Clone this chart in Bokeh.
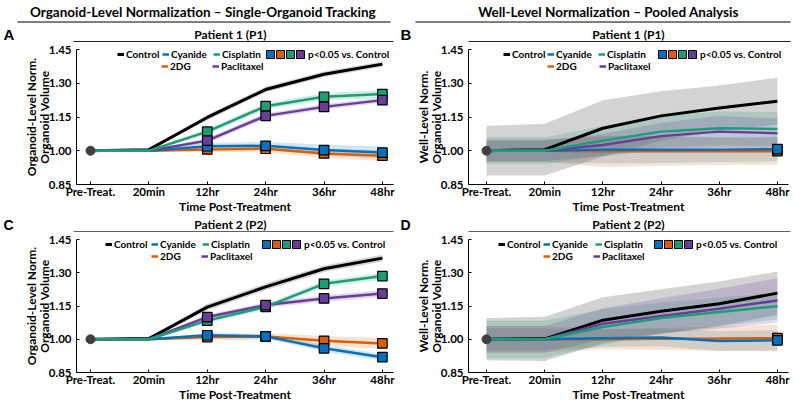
from bokeh.plotting import figure
from bokeh.layouts import column, row
from bokeh.models import Range1d, FixedTicker, Legend, LegendItem, NumeralTickFormatter
from bokeh.embed import file_html
from bokeh.resources import INLINE
from bokeh.core.properties import value

# ---------------- data ----------------
time_labels = ["Pre-Treat.", "20min", "12hr", "24hr", "36hr", "48hr"]
y_ticks = [0.85, 1.00, 1.15, 1.30, 1.45]
header_left = "Organoid-Level Normalization \u2013 Single-Organoid Tracking"
header_right = "Well-Level Normalization \u2013 Pooled Analysis"
patient_titles = ["Patient 1 (P1)", "Patient 2 (P2)"]
panel_letters = ["A", "B", "C", "D"]
ylabel_org = "Organoid-Level Norm.\nOrganoid Volume"
ylabel_well = "Well-Level Norm.\nOrganoid Volume"
xlabel = "Time Post-Treatment"
sig_label = "p<0.05 vs. Control"

# Panel A: organoid-level, patient 1
A_ctrl = [1.000, 1.005, 1.148, 1.272, 1.340, 1.385]
A_ctrl_sd = [0.000, 0.003, 0.012, 0.012, 0.012, 0.012]
A_cyn = [1.000, 1.000, 1.020, 1.022, 1.003, 0.992]
A_cyn_sd = [0.000, 0.003, 0.015, 0.018, 0.024, 0.028]
A_2dg = [1.000, 1.000, 1.006, 1.009, 0.988, 0.978]
A_2dg_sd = [0.000, 0.003, 0.012, 0.015, 0.020, 0.024]
A_cis = [1.000, 1.000, 1.085, 1.198, 1.240, 1.252]
A_cis_sd = [0.000, 0.003, 0.012, 0.013, 0.016, 0.018]
A_pac = [1.000, 1.000, 1.045, 1.155, 1.195, 1.225]
A_pac_sd = [0.000, 0.003, 0.012, 0.012, 0.012, 0.012]
A_cyn_sig = [0, 0, 1, 1, 1, 1]
A_2dg_sig = [0, 0, 1, 1, 1, 1]
A_cis_sig = [0, 0, 1, 1, 1, 1]
A_pac_sig = [0, 0, 1, 1, 1, 1]

# Panel B: well-level, patient 1
B_ctrl = [1.000, 1.005, 1.100, 1.155, 1.190, 1.220]
B_ctrl_sd = [0.110, 0.115, 0.125, 0.110, 0.100, 0.105]
B_cyn = [1.000, 1.000, 1.005, 1.005, 1.005, 1.007]
B_cyn_sd = [0.050, 0.050, 0.060, 0.060, 0.055, 0.055]
B_2dg = [1.000, 1.000, 0.998, 0.998, 0.998, 0.998]
B_2dg_sd = [0.050, 0.050, 0.070, 0.065, 0.060, 0.060]
B_cis = [1.000, 1.000, 1.045, 1.085, 1.100, 1.097]
B_cis_sd = [0.060, 0.060, 0.065, 0.070, 0.075, 0.075]
B_pac = [1.000, 1.000, 1.026, 1.065, 1.085, 1.078]
B_pac_sd = [0.045, 0.045, 0.050, 0.060, 0.070, 0.065]
B_cyn_sig = [0, 0, 0, 0, 0, 1]
B_2dg_sig = [0, 0, 0, 0, 0, 1]
B_cis_sig = [0, 0, 0, 0, 0, 0]
B_pac_sig = [0, 0, 0, 0, 0, 0]

# Panel C: organoid-level, patient 2
C_ctrl = [1.000, 1.003, 1.145, 1.236, 1.318, 1.366]
C_ctrl_sd = [0.000, 0.003, 0.015, 0.015, 0.015, 0.015]
C_cyn = [1.000, 1.000, 1.018, 1.013, 0.959, 0.919]
C_cyn_sd = [0.000, 0.003, 0.010, 0.010, 0.015, 0.015]
C_2dg = [1.000, 1.000, 1.010, 1.012, 0.993, 0.981]
C_2dg_sd = [0.000, 0.003, 0.012, 0.015, 0.022, 0.025]
C_cis = [1.000, 1.000, 1.084, 1.146, 1.250, 1.285]
C_cis_sd = [0.000, 0.003, 0.012, 0.012, 0.015, 0.015]
C_pac = [1.000, 1.000, 1.100, 1.154, 1.184, 1.206]
C_pac_sd = [0.000, 0.003, 0.012, 0.012, 0.015, 0.015]
C_cyn_sig = [0, 0, 1, 1, 1, 1]
C_2dg_sig = [0, 0, 1, 1, 1, 1]
C_cis_sig = [0, 0, 1, 1, 1, 1]
C_pac_sig = [0, 0, 1, 1, 1, 1]

# Panel D: well-level, patient 2
D_ctrl = [1.000, 1.002, 1.086, 1.126, 1.160, 1.208]
D_ctrl_sd = [0.095, 0.100, 0.104, 0.100, 0.100, 0.098]
D_cyn = [1.000, 1.000, 1.005, 1.008, 0.992, 0.995]
D_cyn_sd = [0.050, 0.050, 0.040, 0.040, 0.045, 0.045]
D_2dg = [1.000, 1.000, 1.000, 1.002, 1.003, 1.005]
D_2dg_sd = [0.060, 0.060, 0.045, 0.050, 0.055, 0.060]
D_cis = [1.000, 1.000, 1.055, 1.096, 1.123, 1.149]
D_cis_sd = [0.085, 0.085, 0.080, 0.070, 0.065, 0.060]
D_pac = [1.000, 1.000, 1.070, 1.105, 1.138, 1.175]
D_pac_sd = [0.060, 0.060, 0.070, 0.080, 0.090, 0.100]
D_cyn_sig = [0, 0, 0, 0, 0, 1]
D_2dg_sig = [0, 0, 0, 0, 0, 1]
D_cis_sig = [0, 0, 0, 0, 0, 0]
D_pac_sig = [0, 0, 0, 0, 0, 0]

# ---------------- styles ----------------
FONT = "Lato"
NAN = float("nan")
COL = {"Control": "#000000", "Cyanide": "#0072BD", "2DG": "#D95F02",
       "Cisplatin": "#1B9E77", "Paclitaxel": "#6A3D9A"}
BAND = {"Control": ("#808080", 0.35), "Cyanide": ("#0072BD", 0.18), "2DG": ("#D95F02", 0.18),
        "Cisplatin": ("#1B9E77", 0.2), "Paclitaxel": ("#6A3D9A", 0.2)}
x_vals = list(range(len(time_labels)))


def panel_data(prefix):
    g = globals()
    keys = [("Control", "ctrl"), ("Cyanide", "cyn"), ("2DG", "2dg"), ("Cisplatin", "cis"), ("Paclitaxel", "pac")]
    means = {n: g[f"{prefix}_{k}"] for n, k in keys}
    sds = {n: g[f"{prefix}_{k}_sd"] for n, k in keys}
    sigs = {n: g[f"{prefix}_{k}_sig"] for n, k in keys if n != "Control"}
    return means, sds, sigs


def make_panel(prefix, w, h, bl, br, bt, bb, xr, ylabel):
    p = figure(width=w, height=h, x_range=Range1d(*xr), y_range=Range1d(0.85, 1.45),
               output_backend="svg", toolbar_location=None,
               min_border_left=bl, min_border_right=br, min_border_top=bt, min_border_bottom=bb)
    p.outline_line_color = None
    p.grid.visible = False
    p.xaxis.ticker = FixedTicker(ticks=x_vals)
    p.xaxis.major_label_overrides = {i: lab for i, lab in zip(x_vals, time_labels)}
    p.yaxis.ticker = FixedTicker(ticks=y_ticks)
    p.yaxis.formatter = NumeralTickFormatter(format="0.00")
    for ax in (p.xaxis[0], p.yaxis[0]):
        ax.axis_line_color = "black"
        ax.axis_line_width = 1
        ax.major_tick_in = 3
        ax.major_tick_out = 0
        ax.major_tick_line_color = "black"
        ax.minor_tick_line_color = None
        ax.major_label_text_font = FONT
        ax.major_label_text_font_style = "bold"
        ax.major_label_text_font_size = "11.5px"
        ax.major_label_text_color = "black"
        ax.axis_label_text_font = FONT
        ax.axis_label_text_font_style = "bold"
        ax.axis_label_text_font_size = "12px"
        ax.axis_label_text_color = "black"
    p.xaxis.axis_label = xlabel
    p.xaxis.major_label_standoff = 0
    p.xaxis.axis_label_standoff = -2
    p.yaxis.axis_label = ylabel
    p.yaxis.major_label_standoff = 5
    p.yaxis.axis_label_standoff = -6
    p.yaxis.axis_label_text_line_height = 0.85

    means, sds, sigs = panel_data(prefix)
    for n in ["Control", "Cyanide", "2DG", "Cisplatin", "Paclitaxel"]:
        lo = [m - s for m, s in zip(means[n], sds[n])]
        hi = [m + s for m, s in zip(means[n], sds[n])]
        c, a = BAND[n]
        p.varea(x=x_vals, y1=lo, y2=hi, fill_color=c, fill_alpha=a)
    rends = {}
    for n in ["Control", "2DG", "Cyanide", "Paclitaxel", "Cisplatin"]:
        rends[n] = p.line(x_vals, means[n], line_color=COL[n],
                          line_width=3 if n == "Control" else 2.5)
    p.scatter(x_vals[:1], means["Control"][:1], marker="circle", size=9,
              fill_color="#404040", line_color="#404040")
    for n in ["2DG", "Cyanide", "Cisplatin", "Paclitaxel"]:
        xs = [x for x, s in zip(x_vals, sigs[n]) if s]
        ys = [m for m, s in zip(means[n], sigs[n]) if s]
        p.scatter(xs, ys, marker="square", size=9.5, fill_color=COL[n],
                  line_color="black", line_width=1.2)
    # legend proxies (never drawn in the plot area: NaN geometry)
    sq = {}
    for n in ["Cyanide", "2DG", "Cisplatin", "Paclitaxel"]:
        sq[n] = p.quad(left=[NAN], right=[NAN], top=[NAN], bottom=[NAN], fill_color=COL[n],
                       line_color="black", line_width=1)
    sq["none"] = p.quad(left=[NAN], right=[NAN], top=[NAN], bottom=[NAN],
                        fill_alpha=0, line_alpha=0)
    return p, rends, sq


def legend(p, items, x, vy, **kw):
    opts = dict(orientation="horizontal", border_line_color=None, background_fill_alpha=0,
                padding=0, margin=0, spacing=0, label_standoff=2, glyph_width=7,
                glyph_height=20, label_height=20, label_width=0,
                label_text_font=FONT, label_text_font_style="bold",
                label_text_font_size="10px", label_text_color="black")
    opts.update(kw)
    leg = Legend(items=items, location=(x, vy), **opts)
    p.add_layout(leg)


def add_legends(p, rends, sq, fh, xs, t1, t2):
    xc, xy, xcis, xsq, x2, xp = xs
    v1 = fh - t1 - 10
    v2 = fh - t2 - 10
    legend(p, [LegendItem(label="Control", renderers=[rends["Control"]])], xc, v1)
    legend(p, [LegendItem(label="Cyanide", renderers=[rends["Cyanide"]])], xy, v1)
    legend(p, [LegendItem(label="Cisplatin", renderers=[rends["Cisplatin"]])], xcis, v1)
    legend(p, [LegendItem(label="2DG", renderers=[rends["2DG"]])], x2, v2)
    legend(p, [LegendItem(label="Paclitaxel", renderers=[rends["Paclitaxel"]])], xp, v2)
    legend(p, [LegendItem(label="", renderers=[sq[n]])
               for n in ["Cyanide", "2DG", "Cisplatin", "Paclitaxel"]],
           xsq, fh - t1 - 5, glyph_width=10, glyph_height=10, label_height=10,
           label_standoff=0, label_text_font_size="1px")
    legend(p, [LegendItem(label=sig_label, renderers=[sq["none"]])],
           xsq + 40, v1, glyph_width=1, label_standoff=2)


def strip(w, h):
    s = figure(width=w, height=h, x_range=Range1d(0, w), y_range=Range1d(h, 0),
               output_backend="svg", toolbar_location=None, min_border=0,
               x_axis_location=None, y_axis_location=None)
    s.outline_line_color = None
    s.grid.visible = False
    return s


def letter_text(s, xs, y, labels, size):
    s.text(x=xs, y=[y] * len(xs), text=labels,
           text_font=value("Liberation Sans"), text_font_style="bold", text_font_size=size,
           text_align="left", text_baseline="middle", text_color="black")


def title_text(s, xs, y, labels, size):
    s.text(x=xs, y=[y] * len(xs), text=labels,
           text_font=value(FONT), text_font_style="bold", text_font_size=size,
           text_align="center", text_baseline="middle", text_color="black")


# ---------------- layout (page pixels) ----------------
W = 795
top = strip(W, 42)                       # page y 0..42
title_text(top, [202.5, 608], 11.5, [header_left, header_right], "13.5px")
top.segment(x0=[17, 415], y0=[21.5, 21.5], x1=[390, 790], y1=[21.5, 21.5],
            line_color="black", line_width=1.2)
letter_text(top, [3, 400], 33.5, panel_letters[:2], "15px")
title_text(top, [230, 628], 33.5, [patient_titles[0]] * 2, "12px")
top.segment(x0=[73, 468], y0=[41, 41], x1=[393, 790], y1=[41, 41],
            line_color="#222222", line_width=1)

mid = strip(W, 16)                       # page y 216..232
letter_text(mid, [3, 400], 8, panel_letters[2:], "14px")
title_text(mid, [230, 628], 7.5, [patient_titles[1]] * 2, "12px")
mid.segment(x0=[73, 468], y0=[15.3, 15.3], x1=[393, 790], y1=[15.3, 15.3],
            line_color="#222222", line_width=1)

XR_L = (-0.24, 5.19)
XR_R = (-0.31, 5.19)
pA, rA, sA = make_panel("A", 398, 174, 76, 5, 7, 32, XR_L, ylabel_org)   # page y 42..216
pB, rB, sB = make_panel("B", 397, 174, 70, 7, 7, 32, XR_R, ylabel_well)
pC, rC, sC = make_panel("C", 398, 174, 76, 5, 7, 34, XR_L, ylabel_org)   # page y 232..406
pD, rD, sD = make_panel("D", 397, 174, 70, 7, 7, 34, XR_R, ylabel_well)

add_legends(pA, rA, sA, 135, (41, 86, 137, 189, 85, 136), 5, 16.5)
add_legends(pB, rB, sB, 135, (35, 79, 130, 189, 79, 131), 5, 16.5)
add_legends(pC, rC, sC, 133, (29, 75, 126, 185, 75, 125), 5, 16.5)
add_legends(pD, rD, sD, 133, (30, 75, 127, 185, 75, 125), 5, 16.5)

layout = column(top, row(pA, pB), mid, row(pC, pD))
open("out.html", "w").write(file_html(layout, INLINE))
